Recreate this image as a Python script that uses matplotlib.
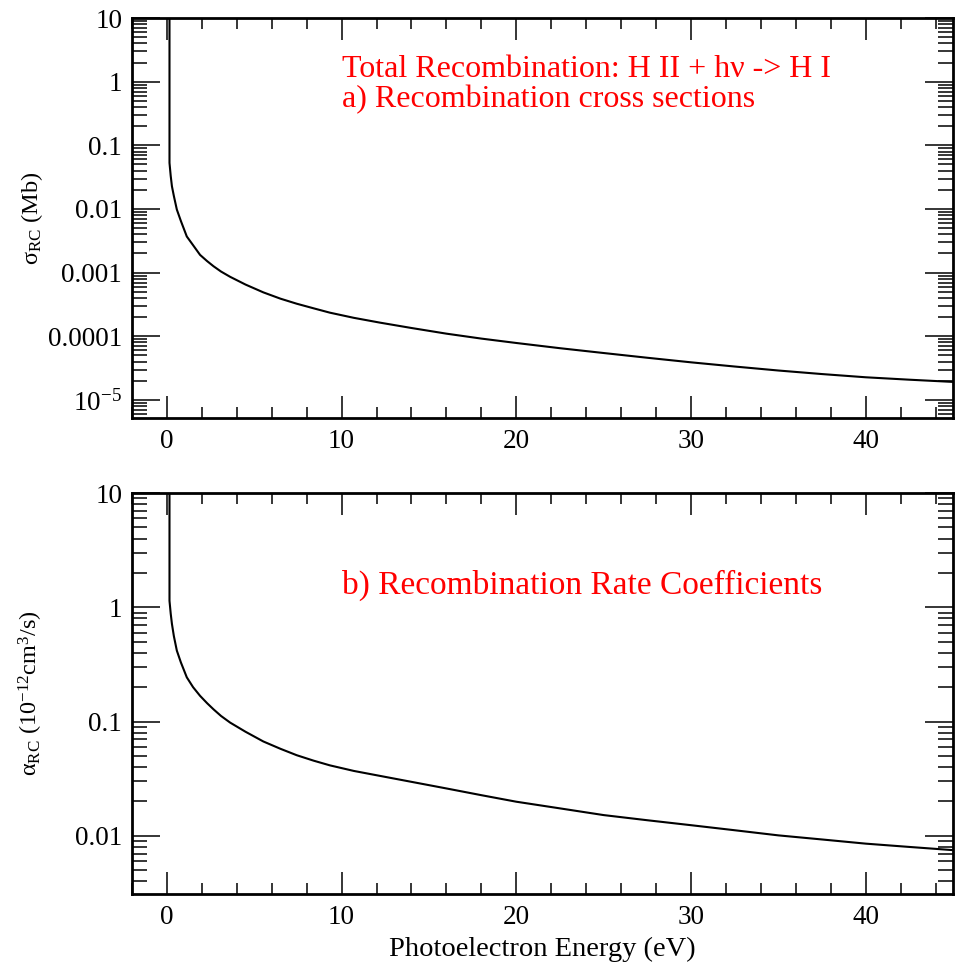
import matplotlib
matplotlib.use("Agg")
import matplotlib.pyplot as plt
from matplotlib.ticker import MultipleLocator, LogLocator, NullFormatter

plt.rcParams['font.family'] = ['Liberation Serif', 'DejaVu Serif']
plt.rcParams['mathtext.fontset'] = 'custom'
plt.rcParams['mathtext.rm'] = 'Liberation Serif'
plt.rcParams['mathtext.it'] = 'Liberation Serif:italic'

# values (photoelectron energy in eV)
energy = [0.15, 0.15, 0.22, 0.29, 0.40, 0.57, 0.80, 1.14, 1.50, 1.90, 2.30, 2.67,
          3.10, 3.62, 4.50, 5.52, 6.50, 7.43, 8.40, 9.33, 10.7, 12.19, 14.0, 16.0,
          18.0, 20.0, 22.5, 25.0, 27.5, 30.0, 32.5, 35.0, 37.5, 40.0, 42.5, 45.0]
# recombination cross sections (Mb)
sigma = [30, 0.053, 0.033, 0.0227, 0.016, 0.0098, 0.0065, 0.0037, 0.0027, 0.0019,
         0.00152, 0.00126, 0.00104, 8.6e-4, 6.5e-4, 4.9e-4, 3.9e-4, 3.25e-4, 2.75e-4,
         2.35e-4, 1.95e-4, 1.64e-4, 1.35e-4, 1.1e-4, 9.2e-5, 7.85e-5, 6.5e-5,
         5.46e-5, 4.6e-5, 3.9e-5, 3.35e-5, 2.9e-5, 2.55e-5, 2.27e-5, 2.08e-5, 1.92e-5]
# recombination rate coefficients (1e-12 cm^3/s)
alpha = [30, 1.14, 0.88, 0.715, 0.56, 0.418, 0.33, 0.244, 0.20, 0.168, 0.145, 0.128,
         0.112, 0.098, 0.0815, 0.067, 0.0578, 0.0508, 0.0455, 0.0414, 0.0370, 0.0335,
         0.0297, 0.026, 0.0227, 0.0199, 0.0174, 0.0152, 0.0137, 0.0124, 0.0112,
         0.0101, 0.0093, 0.00855, 0.0080, 0.0075]

xticks = [0, 10, 20, 30, 40]
yticks_top = [10, 1, 0.1, 0.01, 0.001, 0.0001, 1e-5]
ylabels_top = ["10", "1", "0.1", "0.01", "0.001", "0.0001", "10$^{-5}$"]
yticks_bot = [10, 1, 0.1, 0.01]
ylabels_bot = ["10", "1", "0.1", "0.01"]

fig = plt.figure(figsize=(9.56, 9.69), dpi=100)
ax1 = fig.add_axes([0.138, 0.5686, 0.859, 0.4128])
ax2 = fig.add_axes([0.138, 0.0774, 0.859, 0.4138])


def style(ax, yt, yl):
    ax.set_yscale("log")
    ax.set_xlim(-2, 45)
    ax.set_xticks(xticks)
    ax.set_xticklabels([str(t) for t in xticks])
    ax.xaxis.set_minor_locator(MultipleLocator(2))
    ax.set_yticks(yt)
    ax.set_yticklabels(yl)
    ax.yaxis.set_minor_locator(LogLocator(base=10, subs=range(2, 10), numticks=50))
    ax.yaxis.set_minor_formatter(NullFormatter())
    ax.tick_params(which='both', direction='in', top=True, right=True, width=1.1,
                   labelsize=19.5)
    ax.tick_params(axis='x', which='major', length=16, pad=8)
    ax.tick_params(axis='x', which='minor', length=8)
    ax.tick_params(axis='y', which='major', length=20, pad=7)
    ax.tick_params(axis='y', which='minor', length=10.5)
    for s in ax.spines.values():
        s.set_linewidth(2)


ax1.plot(energy, sigma, color='black', lw=1.5)
style(ax1, yticks_top, ylabels_top)
ax1.set_ylim(5.2e-6, 10)
ax1.set_ylabel("σ$_{\\mathrm{RC}}$ (Mb)", fontsize=17.5)
ax1.yaxis.set_label_coords(-0.106, 0.5)
ax1.text(0.256, 0.872, "Total Recombination: H II + hν -> H I", color='red',
         fontsize=23, transform=ax1.transAxes, va='center')
ax1.text(0.256, 0.797, "a) Recombination cross sections", color='red',
         fontsize=23, transform=ax1.transAxes, va='center')

ax2.plot(energy, alpha, color='black', lw=1.5)
style(ax2, yticks_bot, ylabels_bot)
ax2.set_ylim(0.0031, 10)
ax2.set_ylabel("α$_{\\mathrm{RC}}$ (10$^{-12}$cm$^{3}$/s)", fontsize=17.5)
ax2.yaxis.set_label_coords(-0.106, 0.5)
ax2.text(0.256, 0.77, "b) Recombination Rate Coefficients", color='red',
         fontsize=24, transform=ax2.transAxes, va='center')
ax2.set_xlabel("Photoelectron Energy (eV)", fontsize=20.5, labelpad=5)

fig.savefig("out.png", dpi=100)
